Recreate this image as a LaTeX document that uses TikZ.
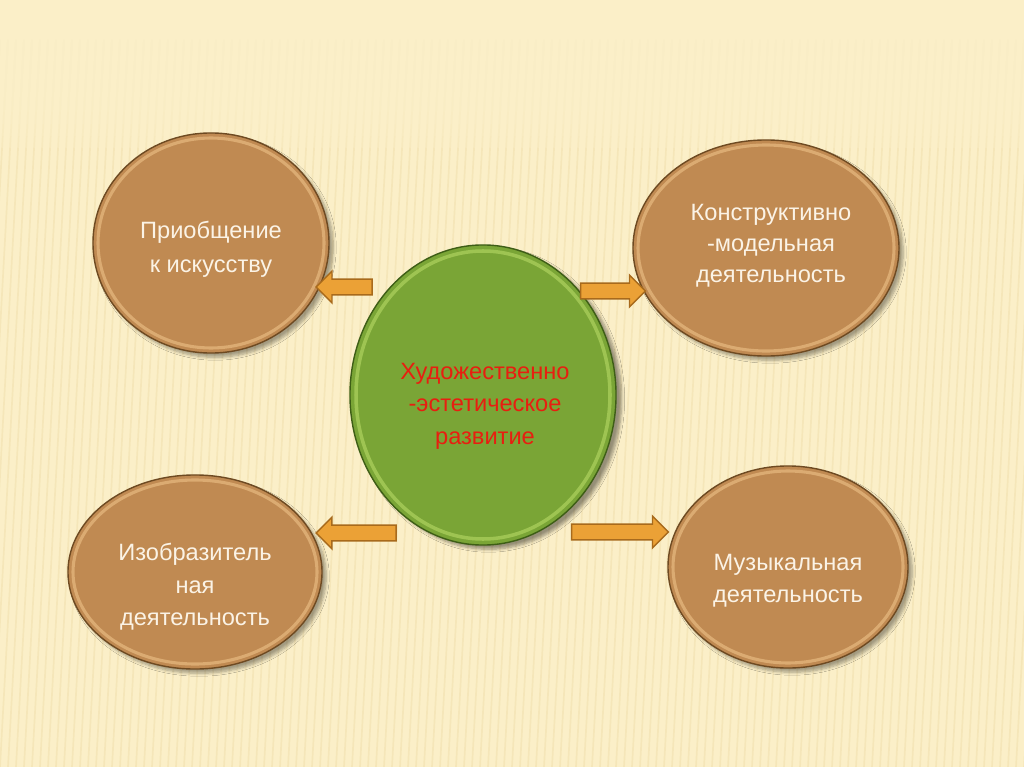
\documentclass[tikz,border=0pt]{standalone}
\usepackage{fontspec}
\setmainfont{Liberation Sans}
\usetikzlibrary{shapes.geometric,shapes.arrows,shadows.blur}
\definecolor{bg}{HTML}{FBEFC8}
\definecolor{stripe}{HTML}{EEDDA8}
\definecolor{brownfill}{HTML}{C08A52}
\definecolor{brownedge}{HTML}{6E4A22}
\definecolor{brownrim}{HTML}{E2B47A}
\definecolor{greenfill}{HTML}{7AA536}
\definecolor{greenedge}{HTML}{3E5E16}
\definecolor{greenrim}{HTML}{A8CC5A}
\definecolor{arrowfill}{HTML}{EBA136}
\definecolor{arrowedge}{HTML}{A86A1C}
\definecolor{txtlight}{HTML}{FBF3E6}
\definecolor{txtred}{HTML}{E81E10}
\tikzset{
  px/.style={x=0.025cm,y=-0.025cm},
  bubble/.style={ellipse, draw=brownedge, line width=1pt, fill=brownfill,
    blur shadow={shadow xshift=3pt,shadow yshift=-3pt,shadow blur steps=6,shadow opacity=35},
    inner sep=0pt},
  rim/.style={draw=brownrim, line width=2.2pt, opacity=0.8},
  bubbletext/.style={text=txtlight, align=center, font=\fontsize{16.8}{23}\selectfont},
  hub/.style={ellipse, draw=greenedge, line width=1pt, fill=greenfill,
    blur shadow={shadow xshift=4pt,shadow yshift=-3pt,shadow blur steps=6,shadow opacity=40},
    inner sep=0pt},
  hubtext/.style={text=txtred, align=center, font=\fontsize{16.8}{23}\selectfont},
  blockarrow/.style={single arrow, draw=arrowedge, fill=arrowfill, line width=1pt,
    minimum height=1.4cm, minimum width=0.75cm, inner sep=0.18cm,
    single arrow head extend=0.2cm, single arrow head indent=0pt, text height=0pt, text depth=0pt},
}
\begin{document}
\begin{tikzpicture}[px]
\useasboundingbox (0,0) rectangle (1024,767);
\fill[bg] (0,0) rectangle (1024,767);
% subtle striped background texture
\foreach \i in {0,8,...,1064} {
  \draw[stripe, line width=1.2pt, opacity=0.45] (\i,40) -- (\i-40,767);
}
\foreach \k in {0,...,9} {
  \fill[bg, opacity=0.35] (0,0) rectangle (1024,40+\k*12);
}

% outer nodes
\node[bubble, minimum width=5.9cm, minimum height=5.5cm] (tl) at (211,243) {};
\node[bubble, minimum width=6.65cm, minimum height=5.4cm] (tr) at (766,248) {};
\node[bubble, minimum width=6.35cm, minimum height=4.85cm] (bl) at (195,572) {};
\node[bubble, minimum width=6.0cm, minimum height=5.05cm] (br) at (788,567) {};
% inner rims
\draw[rim] (tl.center) ellipse [x radius=113, y radius=105];
\draw[rim] (tr.center) ellipse [x radius=128, y radius=103];
\draw[rim] (bl.center) ellipse [x radius=122, y radius=92];
\draw[rim] (br.center) ellipse [x radius=115, y radius=96];
% texts
\node[bubbletext, font=\fontsize{16.8}{24}\selectfont] (tlt) at (211,249) {Приобщение\\к искусству};
\node[bubbletext, font=\fontsize{16.8}{22}\selectfont] (trt) at (771,246) {Конструктивно\\-модельная\\деятельность};
\node[bubbletext] (blt) at (195,587) {Изобразитель\\ная\\деятельность};
\node[bubbletext] (brt) at (788,581) {Музыкальная\\деятельность};

% hub
\node[hub, minimum width=6.65cm, minimum height=7.5cm] (hub) at (483,395) {};
\draw[greenrim, line width=2.5pt, opacity=0.8] (hub.center) ellipse [x radius=127, y radius=144];
\node[hubtext] (hubt) at (485,406) {Художественно\\-эстетическое\\развитие};

% block arrows
\node[blockarrow, shape border rotate=180] (a1) at (348,287) {};
\node[blockarrow, minimum height=1.62cm] (a2) at (609,291) {};
\node[blockarrow, minimum height=2.0cm, shape border rotate=180] (a3) at (360,533) {};
\node[blockarrow, minimum height=2.42cm] (a4) at (616,532) {};
\end{tikzpicture}
\end{document}
